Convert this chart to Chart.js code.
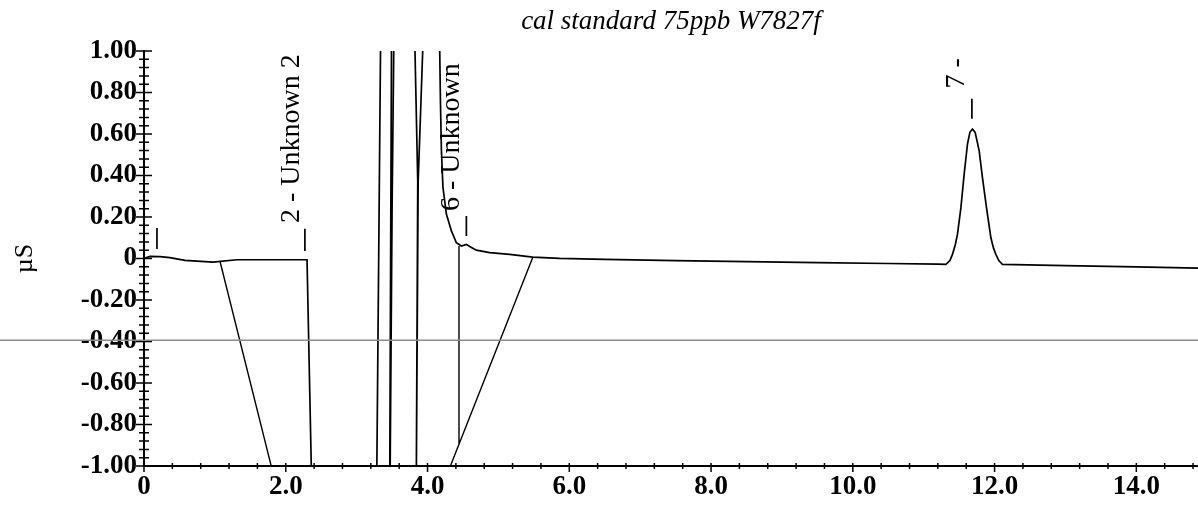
<!DOCTYPE html>
<html>
<head>
<meta charset="utf-8">
<script src="https://cdn.jsdelivr.net/npm/chart.js@4"></script>
<style>
  html, body { margin: 0; padding: 0; background: #fff; }
  canvas { display: block; }
</style>
</head>
<body>
<canvas id="chart" width="1198" height="508"></canvas>
<script>
// chromatogram trace, [minutes, µS]; values past +/-1 are off scale and get clipped
const signalPoints = [
  [0, 0], [0.085, 0.010], [0.225, 0.009], [0.366, 0.004], [0.578, -0.009],
  [0.972, -0.017], [1.31, -0.006], [2.30, -0.006], [2.36, -1.0], [2.366, -1.1],
  [3.28, -1.1], [3.284, -1.05], [3.338, 1.05], [3.42, 2.5], [3.492, 1.05],
  [3.467, -1.05], [3.472, -1.05], [3.50, 0.24], [3.525, 1.05], [3.67, 2.5],
  [3.82, 1.05], [3.862, 0.37], [3.842, -1.05], [3.848, -1.05], [3.868, 0.37],
  [3.937, 1.05], [4.05, 2.5], [4.17, 1.05], [4.182, 0.761], [4.196, 0.519],
  [4.218, 0.342], [4.266, 0.214], [4.337, 0.133], [4.407, 0.076], [4.478, 0.060],
  [4.548, 0.068], [4.595, 0.058], [4.689, 0.040], [4.877, 0.028], [5.159, 0.020],
  [5.483, 0.007], [5.863, 0.001], [6.5, -0.004], [7.5, -0.010], [8.5, -0.015],
  [9.5, -0.020], [10.5, -0.024], [11.2, -0.027], [11.313, -0.028], [11.37, -0.010],
  [11.406, 0.020], [11.445, 0.065], [11.477, 0.117], [11.525, 0.245], [11.571, 0.407],
  [11.618, 0.552], [11.652, 0.608], [11.688, 0.624], [11.726, 0.608], [11.783, 0.519],
  [11.829, 0.390], [11.886, 0.245], [11.948, 0.100], [11.985, 0.050], [12.018, 0.020],
  [12.06, -0.010], [12.111, -0.028], [13.0, -0.034], [14.0, -0.040], [14.87, -0.046]
];

// integration baselines / drop lines, null splits the segments
const baselinePoints = [
  [1.071, -0.012], [1.80, -1.007], null,
  [4.444, 0.060], [4.444, -0.898], null,
  [4.303, -1.017], [5.487, 0.007]
];

// little peak marks above each peak
const markerPoints = [
  [0.183, 0.147], [0.183, 0.046], null,
  [2.27, 0.143], [2.27, 0.036], null,
  [4.548, 0.205], [4.548, 0.109], null,
  [11.68, 0.77], [11.68, 0.674]
];

const peakLabels = ['2 - Unknown 2', '6 - Unknown', '7 -'];
const peakLabelX = [2.086, 4.34, 11.47];
const peakLabelY = [0.171, 0.229, 0.819];

const xTicks = [0, 2, 4, 6, 8, 10, 12, 14];
const yTicks = [-1, -0.8, -0.6, -0.4, -0.2, 0, 0.2, 0.4, 0.6, 0.8, 1];
const scanLineValue = -0.394;

const toXY = pts => pts.map(p => p ? { x: p[0], y: p[1] } : { x: null, y: null });

const overlay = {
  id: 'overlay',
  afterDraw(chart) {
    const { ctx, scales: { x, y } } = chart;
    const ax = x.getPixelForValue(0);
    const ay = y.getPixelForValue(-1);
    ctx.save();
    ctx.strokeStyle = '#000';
    ctx.lineWidth = 1.5;
    ctx.beginPath();
    // y ticks: majors every 0.2, minors every 0.04
    for (let i = 0; i <= 50; i++) {
      const len = i % 5 === 0 ? 8 : 5;
      const py = y.getPixelForValue(-1 + i * 0.04);
      ctx.moveTo(ax - len, py);
      ctx.lineTo(ax + len, py);
    }
    // x ticks: majors every 2, minors every 0.4
    for (let i = 0; i * 0.4 <= x.max; i++) {
      const px = x.getPixelForValue(i * 0.4);
      ctx.moveTo(px, ay - 3);
      ctx.lineTo(px, ay + (i % 5 === 0 ? 6 : 3));
    }
    ctx.stroke();

    // grey scan line across the page
    const sy = y.getPixelForValue(scanLineValue);
    ctx.strokeStyle = '#8c8c8c';
    ctx.lineWidth = 1.5;
    ctx.beginPath();
    ctx.moveTo(0, sy);
    ctx.lineTo(chart.width, sy);
    ctx.stroke();

    // rotated peak names
    ctx.fillStyle = '#000';
    ctx.font = '28px "Liberation Serif"';
    ctx.textAlign = 'left';
    ctx.textBaseline = 'middle';
    peakLabels.forEach((t, i) => {
      ctx.save();
      ctx.translate(x.getPixelForValue(peakLabelX[i]), y.getPixelForValue(peakLabelY[i]));
      ctx.rotate(-Math.PI / 2);
      ctx.fillText(t, 0, 0);
      ctx.restore();
    });
    ctx.restore();
  }
};

const tickFont = { family: 'Liberation Serif', size: 27, weight: 'bold' };

new Chart(document.getElementById('chart'), {
  type: 'line',
  data: {
    datasets: [
      { data: toXY(signalPoints), borderColor: '#000', borderWidth: 1.7, pointRadius: 0, tension: 0, spanGaps: false },
      { data: toXY(baselinePoints), borderColor: '#000', borderWidth: 1.4, pointRadius: 0, tension: 0, spanGaps: false },
      { data: toXY(markerPoints), borderColor: '#000', borderWidth: 1.7, pointRadius: 0, tension: 0, spanGaps: false }
    ]
  },
  options: {
    responsive: false,
    animation: false,
    devicePixelRatio: 1,
    layout: { padding: 0 },
    plugins: {
      legend: { display: false },
      tooltip: { enabled: false },
      title: {
        display: true,
        text: 'cal standard 75ppb W7827f',
        fullSize: false,
        color: '#000',
        font: { family: 'Liberation Serif', size: 27, style: 'italic', weight: 'normal' },
        padding: { top: 6, bottom: 12.6 }
      }
    },
    scales: {
      x: {
        type: 'linear',
        min: 0,
        max: 14.87,
        afterBuildTicks: s => { s.ticks = xTicks.map(v => ({ value: v })); },
        afterFit: s => { s.height = 42; },
        grid: { display: false, drawTicks: false },
        border: { color: '#000', width: 2 },
        ticks: {
          color: '#000',
          font: tickFont,
          padding: 5,
          maxRotation: 0,
          autoSkip: false,
          callback: v => v === 0 ? '0' : v.toFixed(1)
        }
      },
      y: {
        min: -1,
        max: 1,
        afterBuildTicks: s => { s.ticks = yTicks.map(v => ({ value: v })); },
        afterFit: s => { s.width = 144; },
        grid: { display: false, drawTicks: false },
        border: { color: '#000', width: 2 },
        title: {
          display: true,
          text: 'µS',
          color: '#000',
          font: { family: 'Liberation Serif', size: 26 },
          padding: { top: 10, bottom: 0 }
        },
        ticks: {
          color: '#000',
          font: tickFont,
          padding: 7,
          autoSkip: false,
          callback: v => Math.abs(v) < 1e-9 ? '0' : v.toFixed(2)
        }
      }
    }
  },
  plugins: [overlay]
});
</script>
</body>
</html>
